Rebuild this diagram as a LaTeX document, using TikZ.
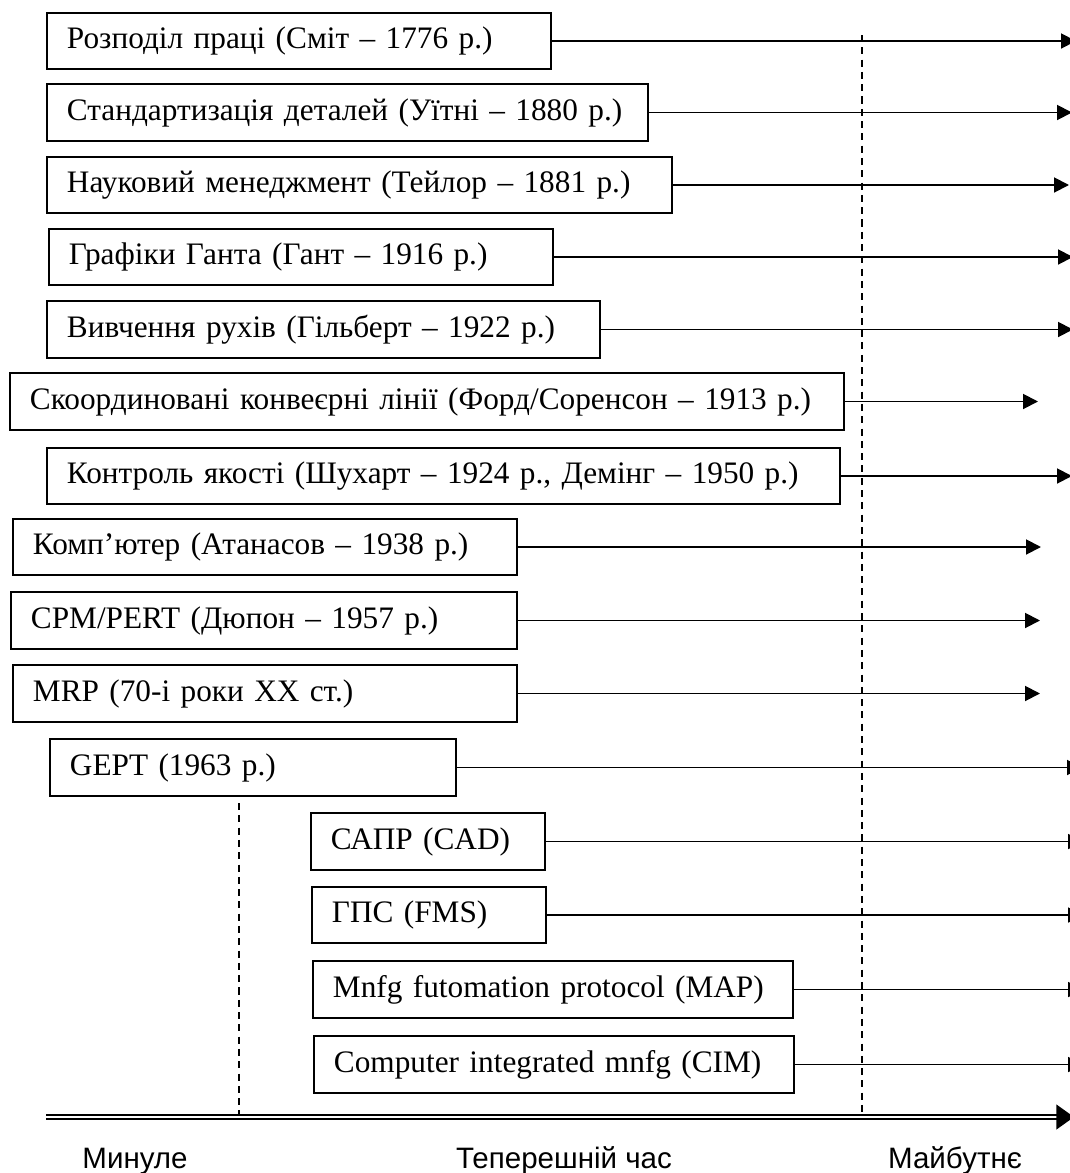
\documentclass[tikz,border=0pt]{standalone}
\usepackage{fontspec}
\setmainfont{Liberation Serif}
\newfontfamily\labelfont{Liberation Sans}
\usetikzlibrary{arrows.meta,positioning}

\begin{document}
\begin{tikzpicture}[x=0.02cm,y=-0.02cm,
    evbox/.style={draw,line width=1.1pt,anchor=west,inner xsep=0.4cm,inner ysep=0pt,
                  minimum height=1.13cm,text width=#1,align=left,
                  font=\fontsize{17.8}{21}\selectfont},
    flow/.style={line width=1.1pt,-{Triangle[length=8.5pt,width=8.5pt]}},
    eraline/.style={line width=0.7pt,dash pattern=on 4pt off 3pt},
    timeaxis/.style={double,line width=1.1pt,double distance=1.6pt,
                     -{Triangle[length=10pt,width=14pt]}},
    eralabel/.style={anchor=base,font=\labelfont\fontsize{16.8}{20}\selectfont}]
  \useasboundingbox (0,0) rectangle (1070,1173);
  \clip (0,0) rectangle (1070,1173);

  % eras
  \coordinate (nowTop) at (862,35);
  \coordinate (nowBase) at (862,1119);
  \coordinate (pastTop) at (239,803);
  \coordinate (pastBase) at (239,1119);
  \draw[eraline] (nowTop) -- (nowBase);
  \draw[eraline] (pastTop) -- (pastBase);

  % events
  \node[evbox=9.28cm]  (smith)    at (46,41)    {Розподіл праці (Сміт – 1776 р.)};
  \node[evbox=11.22cm] (whitney)  at (46,112.5) {Стандартизація деталей (Уїтні – 1880 р.)};
  \node[evbox=11.7cm]  (taylor)   at (46,185)   {Науковий менеджмент (Тейлор – 1881 р.)};
  \node[evbox=9.28cm]  (gantt)    at (48,257)   {Графіки Ганта (Гант – 1916 р.)};
  \node[evbox=10.26cm] (gilbreth) at (46,329.5) {Вивчення рухів (Гільберт – 1922 р.)};
  \node[evbox=15.88cm] (ford)     at (9,401.5)  {Скоординовані конвеєрні лінії (Форд/Соренсон – 1913 р.)};
  \node[evbox=15.06cm] (quality)  at (46,476)   {Контроль якості (Шухарт – 1924 р., Демінг – 1950 р.)};
  \node[evbox=9.28cm]  (computer) at (12,547)   {Комп’ютер (Атанасов – 1938 р.)};
  \node[evbox=9.32cm]  (cpm)      at (10,620.5) {CPM/PERT (Дюпон – 1957 р.)};
  \node[evbox=9.28cm]  (mrp)      at (12,693.5) {MRP (70-і роки XX ст.)};
  \node[evbox=7.32cm]  (gept)     at (49,767.5) {GEPT (1963 р.)};
  \node[evbox=3.88cm]  (cad)      at (310,841.5) {САПР (CAD)};
  \node[evbox=3.88cm]  (fms)      at (311,915)   {ГПС (FMS)};
  \node[evbox=8.8cm]   (map)      at (312,989.5) {Mnfg futomation protocol (MAP)};
  \node[evbox=8.8cm]   (cim)      at (313,1064.5) {Computer integrated mnfg (CIM)};

  % arrow ends
  \coordinate (smithEnd)    at (1076,41);
  \coordinate (whitneyEnd)  at (1072,112.5);
  \coordinate (taylorEnd)   at (1069,185);
  \coordinate (ganttEnd)    at (1073,257);
  \coordinate (gilbrethEnd) at (1073,329.5);
  \coordinate (fordEnd)     at (1038,401.5);
  \coordinate (qualityEnd)  at (1072,476);
  \coordinate (computerEnd) at (1041,547);
  \coordinate (cpmEnd)      at (1040,620.5);
  \coordinate (mrpEnd)      at (1040,693.5);
  \coordinate (geptEnd)     at (1082,767.5);
  \coordinate (cadEnd)      at (1083,841.5);
  \coordinate (fmsEnd)      at (1083,915);
  \coordinate (mapEnd)      at (1083,989.5);
  \coordinate (cimEnd)      at (1083,1064.5);

  \foreach \ev in {smith,whitney,taylor,gantt,gilbreth,ford,quality,computer,
                   cpm,mrp,gept,cad,fms,map,cim}
    \draw[flow] (\ev) -- (\ev End);

  % time axis
  \coordinate (axisStart) at (46,1117);
  \coordinate (axisEnd) at (1074,1117);
  \draw[timeaxis] (axisStart) -- (axisEnd);

  \node[eralabel] (past)    at (135,1168) {Минуле};
  \node[eralabel] (present) at (564,1168) {Теперешній час};
  \node[eralabel] (future)  at (955,1168) {Майбутнє};
\end{tikzpicture}
\end{document}
